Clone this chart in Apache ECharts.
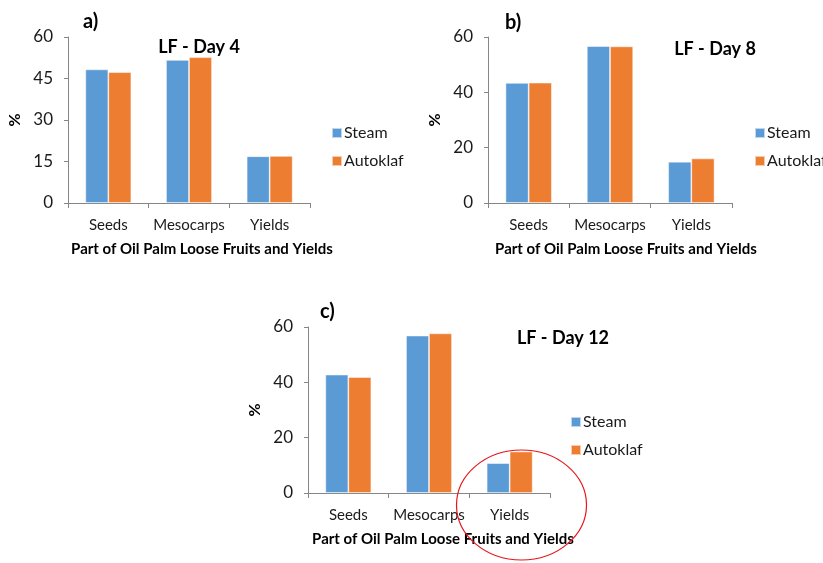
<!DOCTYPE html>
<html>
<head>
<meta charset="utf-8">
<script src="https://cdn.jsdelivr.net/npm/echarts@6/dist/echarts.min.js"></script>
<style>
html,body{margin:0;padding:0;background:#fff;}
#chart{width:823px;height:563px;}
</style>
</head>
<body>
<div id="chart"></div>
<script>
const categories = ['Seeds', 'Mesocarps', 'Yields'];
const seriesNames = ['Steam', 'Autoklaf'];
const steamDay4 = [48.3, 51.7, 16.9];
const autoklafDay4 = [47.3, 52.7, 17.0];
const steamDay8 = [43.4, 56.7, 14.9];
const autoklafDay8 = [43.5, 56.6, 16.1];
const steamDay12 = [42.8, 56.9, 10.8];
const autoklafDay12 = [41.9, 57.7, 15.0];
const panelTitles = ['LF - Day 4', 'LF - Day 8', 'LF - Day 12'];
const panelLetters = ['a)', 'b)', 'c)'];
const yTicks4 = { min: 0, max: 60, interval: 15 };
const yTicks8 = { min: 0, max: 60, interval: 20 };
const yTicks12 = { min: 0, max: 60, interval: 20 };
const xAxisTitle = 'Part of Oil Palm Loose Fruits and Yields';
const yAxisTitle = '%';

const FONT = 'Lato';
const BLUE = '#5B9BD5';
const ORANGE = '#ED7D31';
const AXIS = '#868686';
const TXT = '#1a1a1a';

const grids = [
  { left: 68, top: 37, width: 242, height: 166 },
  { left: 488, top: 37, width: 244, height: 166 },
  { left: 308, top: 327, width: 242, height: 166 }
];
const yScales = [yTicks4, yTicks8, yTicks12];
const dataSets = [[steamDay4, autoklafDay4], [steamDay8, autoklafDay8], [steamDay12, autoklafDay12]];
const legendPos = [{ left: 331, top: 125 }, { left: 754, top: 125 }, { left: 570, top: 414 }];
const titlePos = [{ x: 194, y: 33 }, { x: 710, y: 35 }, { x: 558, y: 324 }];
const letterPos = [{ x: 78, y: 7 }, { x: 500, y: 8 }, { x: 315, y: 297 }];
const namePadLeft = [26, 32, 28];

const option = {
  animation: false,
  backgroundColor: '#fff',
  textStyle: { fontFamily: FONT },
  title: [],
  legend: [],
  grid: grids.map(g => Object.assign({ containLabel: false }, g)),
  xAxis: [],
  yAxis: [],
  series: [],
  graphic: []
};

for (let i = 0; i < 3; i++) {
  option.title.push({
    text: panelTitles[i],
    left: titlePos[i].x, top: titlePos[i].y, textAlign: 'center',
    textStyle: { fontFamily: FONT, fontSize: 18, fontWeight: 'bold', color: '#000' }
  });
  option.title.push({
    text: panelLetters[i],
    left: letterPos[i].x, top: letterPos[i].y,
    textStyle: { fontFamily: FONT, fontSize: 20, fontWeight: 'bold', color: '#000' }
  });
  option.legend.push({
    orient: 'vertical',
    left: legendPos[i].left, top: legendPos[i].top,
    padding: 0,
    itemWidth: 10, itemHeight: 10, itemGap: 12,
    icon: 'rect',
    data: seriesNames,
    textStyle: { fontFamily: FONT, fontSize: 16, color: TXT, padding: [0, 0, 0, -3] }
  });
  option.xAxis.push({
    type: 'category', gridIndex: i, data: categories,
    axisLine: { lineStyle: { color: AXIS, width: 1 } },
    axisTick: { show: true, length: 5, lineStyle: { color: AXIS } },
    axisLabel: { interval: 0, fontFamily: FONT, fontSize: 15, color: TXT, margin: 15 },
    name: xAxisTitle, nameLocation: 'middle', nameGap: 39,
    nameTextStyle: { fontFamily: FONT, fontSize: 15, fontWeight: 'bold', color: '#000', padding: [0, 0, 0, namePadLeft[i]] }
  });
  option.yAxis.push({
    type: 'value', gridIndex: i,
    min: yScales[i].min, max: yScales[i].max, interval: yScales[i].interval,
    axisLine: { show: true, lineStyle: { color: AXIS, width: 1 } },
    axisTick: { show: true, length: 4, lineStyle: { color: AXIS } },
    splitLine: { show: false },
    axisLabel: { fontFamily: FONT, fontSize: 17, color: TXT, margin: 15 },
    name: yAxisTitle, nameLocation: 'middle', nameRotate: 90, nameGap: 45,
    nameTextStyle: { fontFamily: FONT, fontSize: 16, fontWeight: 'bold', color: '#000' }
  });
  for (let s = 0; s < 2; s++) {
    option.series.push({
      type: 'bar', name: seriesNames[s], xAxisIndex: i, yAxisIndex: i,
      data: dataSets[i][s],
      barGap: '0%', barCategoryGap: '43%',
      itemStyle: { color: s === 0 ? BLUE : ORANGE, borderColor: 'rgba(255,255,255,0.6)', borderWidth: 0.8 }
    });
  }
}

option.graphic.push({
  type: 'ellipse',
  shape: { cx: 521.5, cy: 505, rx: 65, ry: 55 },
  style: { fill: 'none', stroke: '#e8141b', lineWidth: 1.2 },
  z: 100
});

const chart = echarts.init(document.getElementById('chart'), null, { renderer: 'canvas' });
chart.setOption(option);
</script>
</body>
</html>
